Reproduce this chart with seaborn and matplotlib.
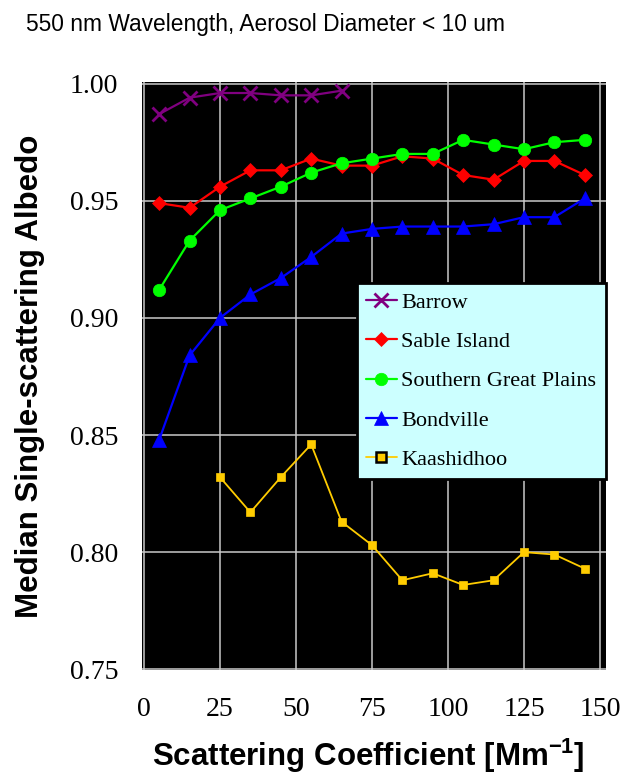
import matplotlib
matplotlib.use("Agg")
import matplotlib.pyplot as plt
import seaborn as sns
import pandas as pd

# ---- data ----
x_all = [5, 15, 25, 35, 45, 55, 65, 75, 85, 95, 105, 115, 125, 135, 145]
barrow_x = [5, 15, 25, 35, 45, 55, 65]
barrow = [0.987, 0.994, 0.996, 0.996, 0.995, 0.995, 0.997]
sable = [0.949, 0.947, 0.956, 0.963, 0.963, 0.968, 0.965, 0.965, 0.969, 0.968,
         0.961, 0.959, 0.967, 0.967, 0.961]
sgp = [0.912, 0.933, 0.946, 0.951, 0.956, 0.962, 0.966, 0.968, 0.970, 0.970,
       0.976, 0.974, 0.972, 0.975, 0.976]
bondville = [0.848, 0.884, 0.900, 0.910, 0.917, 0.926, 0.936, 0.938, 0.939, 0.939,
             0.939, 0.940, 0.943, 0.943, 0.951]
kaash_x = [25, 35, 45, 55, 65, 75, 85, 95, 105, 115, 125, 135, 145]
kaash = [0.832, 0.817, 0.832, 0.846, 0.813, 0.803, 0.788, 0.791, 0.786, 0.788,
         0.800, 0.799, 0.793]
x_ticks = [0, 25, 50, 75, 100, 125, 150]
y_ticks = [0.75, 0.80, 0.85, 0.90, 0.95, 1.00]

series = [
    ("Barrow", barrow_x, barrow, "#800080", "x", 10.5, 1.6),
    ("Sable Island", x_all, sable, "#FF0000", "D", 7.5, 1.6),
    ("Southern Great Plains", x_all, sgp, "#00FF00", "o", 9.0, 1.6),
    ("Bondville", x_all, bondville, "#0000FF", "^", 10.0, 1.6),
    ("Kaashidhoo", kaash_x, kaash, "#FFCC00", "s", 5.6, 1.3),
]

sns.set_style("white")
plt.rcParams["font.family"] = ["Liberation Serif", "DejaVu Serif"]
for k in ["text.color", "axes.labelcolor", "xtick.color", "ytick.color"]:
    plt.rcParams[k] = "black"

fig = plt.figure(figsize=(6.3, 7.74), dpi=100)
ax = fig.add_axes([142 / 630, 1 - 670 / 774, 464 / 630, 588 / 774])
ax.set_facecolor("black")

for name, xs, ys, col, mk, ms, lw in series:
    df = pd.DataFrame({"x": xs, "y": ys})
    sns.lineplot(data=df, x="x", y="y", ax=ax, color=col, marker=mk,
                 markersize=ms, linewidth=lw, label=name,
                 markeredgecolor=col, markeredgewidth=(2 if mk == "x" else 0.5),
                 zorder=3)

ax.set_xlim(-0.66, 152)
ax.set_ylim(0.7497, 1.0007)
ax.set_xticks(x_ticks)
ax.set_yticks(y_ticks)
ax.set_yticklabels([f"{v:.2f}" for v in y_ticks])
ax.grid(True, color="#C8C8C8", linewidth=1.1, zorder=0)
ax.set_axisbelow(True)
for s in ax.spines.values():
    s.set_visible(False)
ax.tick_params(axis="x", length=0, pad=19.5, labelsize=20, labelcolor="black")
ax.tick_params(axis="y", length=0, pad=17, labelsize=20, labelcolor="black")

ax.set_xlabel("Scattering Coefficient [Mm$^{\\mathregular{-1}}$]",
              family="Liberation Sans", fontweight="bold", fontsize=22.5,
              color="black")
ax.set_ylabel("Median Single-scattering Albedo",
              family="Liberation Sans", fontweight="bold", fontsize=22.5,
              color="black")
ax.xaxis.label.set_va("baseline")
ax.xaxis.set_label_coords(0.487, (670 - 766) / 588)
ax.yaxis.set_label_coords(-0.21, 0.5)

fig.text(266 / 630, 1 - 24 / 774, "550 nm Wavelength, Aerosol Diameter < 10 um",
         family="Liberation Sans", fontsize=16.4, ha="center", va="center",
         color="black")

leg = ax.legend(loc="upper left", bbox_to_anchor=(0.463, 0.658), borderaxespad=0,
                fontsize=16.0, frameon=True, fancybox=False, framealpha=1,
                facecolor="#CCFFFF", edgecolor="black", handlelength=1.38,
                handletextpad=0.2, labelspacing=0.84, borderpad=0.42)
leg.get_frame().set_linewidth(2)
for t in leg.get_texts():
    t.set_family(["Liberation Serif", "DejaVu Serif"])
    t.set_color("black")
leg.legend_handles[4].set_markeredgecolor("black")
leg.legend_handles[4].set_markeredgewidth(1.8)
leg.legend_handles[4].set_markersize(7.5)

fig.savefig("out.png", dpi=100)
